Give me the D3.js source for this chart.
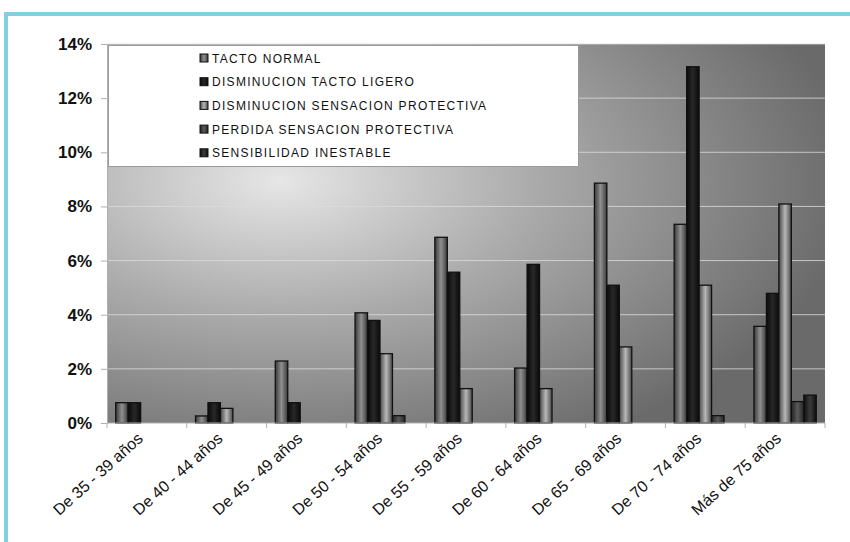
<!DOCTYPE html>
<html><head><meta charset="utf-8">
<script src="https://cdn.jsdelivr.net/npm/d3@7/dist/d3.min.js"></script>
<style>body{margin:0;background:#fff}svg{display:block}</style>
</head><body>
<svg id="c" width="850" height="542"></svg>
<script>
const categories = ["De 35 - 39 años","De 40 - 44 años","De 45 - 49 años","De 50 - 54 años","De 55 - 59 años","De 60 - 64 años","De 65 - 69 años","De 70 - 74 años","Más de 75 años"];
const seriesNames = ["TACTO NORMAL","DISMINUCION TACTO LIGERO","DISMINUCION SENSACION PROTECTIVA","PERDIDA SENSACION PROTECTIVA","SENSIBILIDAD INESTABLE"];
const tactoNormal     = [0.75, 0.26, 2.29, 4.07, 6.86, 2.03, 8.86, 7.34, 3.57];
const disminTacto     = [0.75, 0.75, 0.75, 3.79, 5.57, 5.86, 5.09, 13.16, 4.79];
const disminSensacion = [0,    0.54, 0,    2.56, 1.27, 1.27, 2.81, 5.09, 8.09];
const perdidaSensacion= [0,    0,    0,    0.27, 0,    0,    0,    0.27, 0.79];
const sensInestable   = [0,    0,    0,    0,    0,    0,    0,    0,    1.03];
const yTicks = [0,2,4,6,8,10,12,14];
const dataLabel = {series:4, category:8, text:"1%"};

const seriesValues = [tactoNormal, disminTacto, disminSensacion, perdidaSensacion, sensInestable];
const svg = d3.select("#c");
const m = {l:107, r:825, t:44, b:423};
const FONT = "Liberation Sans, Arial, sans-serif";

const defs = svg.append("defs");
const bg = defs.append("radialGradient").attr("id","bg").attr("cx",0.24).attr("cy",0.36).attr("r",0.8).attr("fx",0.24).attr("fy",0.36);
bg.append("stop").attr("offset",0).attr("stop-color","#e6e6e6");
bg.append("stop").attr("offset",0.45).attr("stop-color","#aaaaaa");
bg.append("stop").attr("offset",1).attr("stop-color","#6a6a6a");

const barStyles = [
  ["#3a3a3a","#909090","#3a3a3a"],
  ["#0a0a0a","#282828","#0a0a0a"],
  ["#484848","#b8b8b8","#484848"],
  ["#242424","#5a5a5a","#242424"],
  ["#0e0e0e","#3c3c3c","#0e0e0e"]
];
barStyles.forEach((c,i)=>{
  const g = defs.append("linearGradient").attr("id","s"+i).attr("x1",0).attr("x2",1).attr("y1",0).attr("y2",0);
  g.append("stop").attr("offset",0).attr("stop-color",c[0]);
  g.append("stop").attr("offset",0.5).attr("stop-color",c[1]);
  g.append("stop").attr("offset",1).attr("stop-color",c[2]);
});

svg.append("rect").attr("x",4).attr("y",12).attr("width",846).attr("height",4).attr("fill","#80d0e0");
svg.append("rect").attr("x",4).attr("y",12).attr("width",4).attr("height",530).attr("fill","#80d0e0");

const x0 = d3.scaleBand().domain(categories).range([m.l,m.r]).paddingInner(0).paddingOuter(0);
const x1 = d3.scaleBand().domain(d3.range(5)).range([0,x0.bandwidth()]).paddingOuter(0.7).paddingInner(0);
const y = d3.scaleLinear().domain([0,14]).range([m.b,m.t]);

svg.append("rect").attr("x",m.l).attr("y",m.t).attr("width",m.r-m.l).attr("height",m.b-m.t).attr("fill","url(#bg)");

svg.append("g").selectAll("line").data(yTicks.filter(d=>d>0)).join("line")
  .attr("x1",m.l).attr("x2",m.r).attr("y1",d=>y(d)).attr("y2",d=>y(d))
  .attr("stroke","#dcdcdc").attr("stroke-opacity",0.8).attr("stroke-width",1);

const gG = svg.append("g").selectAll("g").data(categories).join("g")
  .attr("transform",d=>`translate(${x0(d)},0)`);
gG.selectAll("rect").data((d,ci)=>seriesValues.map((s,si)=>({si,v:s[ci]})).filter(o=>o.v>0)).join("rect")
  .attr("x",d=>x1(d.si)).attr("width",x1.bandwidth())
  .attr("y",d=>y(d.v)).attr("height",d=>y(0)-y(d.v))
  .attr("fill",d=>`url(#s${d.si})`).attr("stroke","#111").attr("stroke-width",1.3);

svg.append("text").attr("x",x0(categories[dataLabel.category])+x1(dataLabel.series)+x1.bandwidth()/2)
  .attr("y",y(sensInestable[dataLabel.category])-9).attr("text-anchor","middle")
  .attr("font-family",FONT).attr("font-weight","bold").attr("font-size",12)
  .attr("fill","#6a6a6a").text(dataLabel.text);

const yAxis = d3.axisLeft(y).tickValues(yTicks).tickFormat(d=>d+"%").tickSize(6).tickPadding(9);
const ya = svg.append("g").attr("transform",`translate(${m.l},0)`).call(yAxis);
ya.select(".domain").attr("stroke","#b0b0b0");
ya.selectAll(".tick line").attr("stroke","#b0b0b0");
ya.selectAll("text").attr("font-family",FONT).attr("font-weight","bold").attr("font-size",17).attr("fill","#111");

const xa = svg.append("g").attr("transform",`translate(0,${m.b})`);
xa.append("line").attr("x1",m.l).attr("x2",m.r).attr("stroke","#b0b0b0");
xa.selectAll("line.t").data(categories.concat(["_end"])).join("line").attr("class","t")
  .attr("x1",(d,i)=>m.l+i*x0.bandwidth()).attr("x2",(d,i)=>m.l+i*x0.bandwidth()).attr("y1",0).attr("y2",5).attr("stroke","#b0b0b0");
xa.selectAll("text").data(categories).join("text")
  .attr("transform",d=>`translate(${x0(d)+x0.bandwidth()/2-3},${17}) rotate(-42)`)
  .attr("text-anchor","end").attr("font-family",FONT).attr("font-size",16).attr("fill","#111")
  .text(d=>d);

const lg = svg.append("g");
lg.append("rect").attr("x",108.5).attr("y",45.5).attr("width",470).attr("height",121).attr("fill","#fff").attr("stroke","#9a9a9a");
const li = lg.selectAll("g").data(seriesNames).join("g").attr("transform",(d,i)=>`translate(200,${58+i*23.7})`);
li.append("rect").attr("x",0).attr("y",-4).attr("width",8).attr("height",8).attr("fill",(d,i)=>`url(#s${i})`).attr("stroke","#111").attr("stroke-width",1);
li.append("text").attr("x",12).attr("y",4.5).attr("font-family",FONT).attr("font-size",12).attr("letter-spacing",1.3).attr("fill","#111").text(d=>d);
</script>
</body></html>
